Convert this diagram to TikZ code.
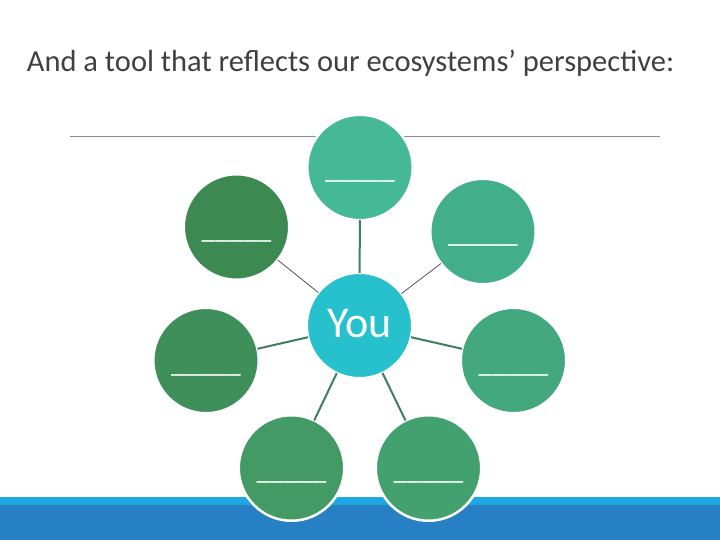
\documentclass[tikz,border=0pt]{standalone}
\usepackage{fontspec}
\setmainfont{Carlito}
\definecolor{ctop}{HTML}{45B896}
\definecolor{ctl}{HTML}{3C8952}
\definecolor{ctr}{HTML}{43AF8A}
\definecolor{clm}{HTML}{3F8F5A}
\definecolor{crm}{HTML}{44A87E}
\definecolor{cbl}{HTML}{449A64}
\definecolor{cbr}{HTML}{43A16F}
\definecolor{cyou}{HTML}{26C1CD}
\definecolor{cthick}{HTML}{3F7E5E}
\definecolor{cthin}{HTML}{555555}
\definecolor{bandlight}{HTML}{1EA7E0}
\definecolor{banddark}{HTML}{2680C3}
\definecolor{titlegray}{HTML}{404040}
\begin{document}
\begin{tikzpicture}[x=1pt,y=-1pt,
  bubble/.style={circle,draw=white,line width=2.5pt,minimum size=105.5pt,inner sep=0pt,outer sep=0pt},
  uline/.style={text=white,font=\fontsize{28}{28}\selectfont,inner sep=0pt,anchor=base},
  thick link/.style={draw=cthick,line width=2pt},
  thin link/.style={draw=cthin,line width=0.8pt}]
\useasboundingbox (0,0) rectangle (720,540);
\fill[white] (0,0) rectangle (720,540);
% bottom band
\fill[bandlight] (0,497) rectangle (720,505);
\fill[banddark] (0,505) rectangle (720,540);
% title
\node[text=titlegray,font=\fontsize{30.5}{30.5}\selectfont,anchor=base,inner sep=0pt] (title) at (350.5,72) {And a tool that reflects our ecosystems’ perspective:};
% rule
\coordinate (rl) at (70,136);
\coordinate (rr) at (660,136);
\draw[draw=gray!90,line width=0.9pt] (rl) -- (rr);
% circles
\node[bubble,fill=ctop] (top) at (360,167.5) {};
\node[bubble,fill=ctl] (tl) at (236.5,227) {};
\node[bubble,fill=ctr] (tr) at (483,231.5) {};
\node[bubble,fill=cyou] (you) at (359.5,325.5) {};
\node[bubble,fill=clm] (lm) at (206,360.5) {};
\node[bubble,fill=crm] (rm) at (513.5,360.5) {};
\node[bubble,fill=cbl] (bl) at (291.5,468) {};
\node[bubble,fill=cbr] (br) at (428.5,468) {};
% connectors
\draw[thick link] (top) -- (you);
\draw[thin link] (tl) -- (you);
\draw[thin link] (tr) -- (you);
\draw[thick link] (lm) -- (you);
\draw[thick link] (rm) -- (you);
\draw[thick link] (bl) -- (you);
\draw[thick link] (br) -- (you);
% labels
\node[text=white,font=\fontsize{44}{44}\selectfont,anchor=base,inner sep=0pt] (youtxt) at (359.5,337) {You};
\node[uline] (ltop) at (360,179) {\_\_\_\_\_};
\node[uline] (ltl) at (236.5,238.5) {\_\_\_\_\_};
\node[uline] (ltr) at (483,243) {\_\_\_\_\_};
\node[uline] (llm) at (206,372) {\_\_\_\_\_};
\node[uline] (lrm) at (513.5,372) {\_\_\_\_\_};
\node[uline] (lbl) at (291.5,479.5) {\_\_\_\_\_};
\node[uline] (lbr) at (428.5,479.5) {\_\_\_\_\_};
\end{tikzpicture}
\end{document}
